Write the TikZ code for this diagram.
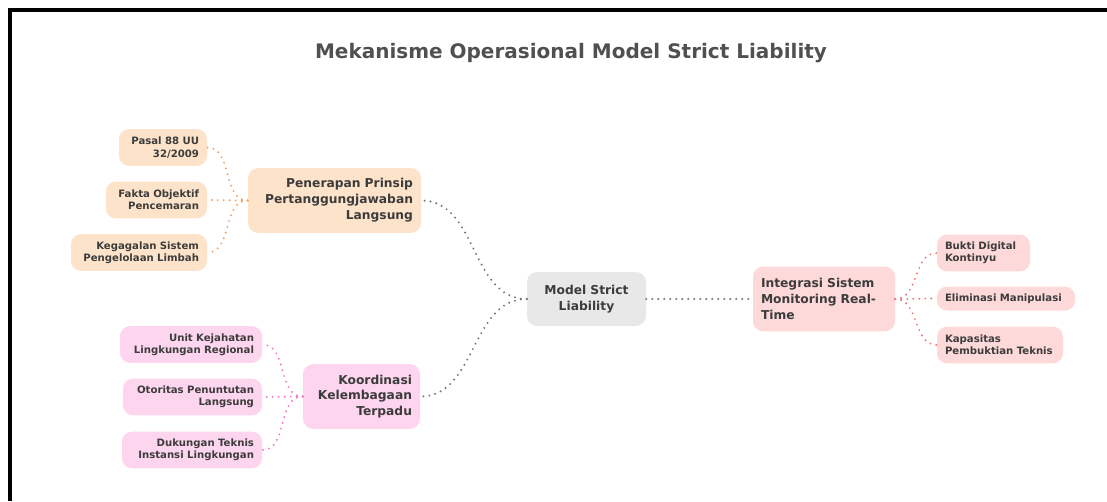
\documentclass[tikz,border=0pt]{standalone}
\usepackage{fontspec}
\setmainfont{DejaVu Sans}
\usetikzlibrary{calc}

\definecolor{txt}{HTML}{3C3C3C}
\definecolor{rootfill}{HTML}{E8E8E8}
\definecolor{orangefill}{HTML}{FDE3CA}
\definecolor{pinkfill}{HTML}{FDD5EE}
\definecolor{redfill}{HTML}{FDD9D9}
\definecolor{graylink}{HTML}{727272}
\definecolor{orangelink}{HTML}{F3A063}
\definecolor{pinklink}{HTML}{EF78C3}
\definecolor{redlink}{HTML}{EF7777}

\tikzset{
  box/.style={rounded corners=7.5pt, inner xsep=6pt, inner ysep=2pt, text=txt,
    font=\bfseries\fontsize{9.2}{11.9}\selectfont, minimum height=48.5pt},
  leaf/.style={box, font=\bfseries\fontsize{7.6}{9.2}\selectfont, minimum height=27.5pt},
  dots/.style={line width=1.6pt, line cap=round, dash pattern=on 0pt off 4.5pt},
}

\begin{document}
\begin{tikzpicture}[x=0.75pt,y=-0.75pt]
\useasboundingbox (0,0) rectangle (1107,501);
% frame (only top and left edges show)
\draw[line width=3pt] (10,501) -- (10,10) -- (1107,10);

\node[font=\bfseries\fontsize{15}{18}\selectfont, text=txt!90] (title) at (571,53)
  {Mekanisme Operasional Model Strict Liability};

% centre
\node[box, fill=rootfill, text width=77.25pt, align=center, minimum height=40.5pt] (root) at (586.5,299)
  {Model Strict\\Liability};

% main branches
\node[box, fill=orangefill, text width=117.75pt, align=right] (pen) at (334.5,200.5)
  {Penerapan Prinsip\\Pertanggungjawaban\\Langsung};
\node[box, fill=pinkfill, text width=75.75pt, align=right] (koor) at (361.5,396.5)
  {Koordinasi\\Kelembagaan\\Terpadu};
\node[box, fill=redfill, text width=94.5pt, align=left] (integ) at (824,299)
  {Integrasi Sistem\\Monitoring Real-\\Time};

% leaves
\node[leaf, fill=orangefill, text width=54pt, align=right] (pasal) at (163,147.5) {Pasal 88 UU\\32/2009};
\node[leaf, fill=orangefill, text width=63.75pt, align=right] (fakta) at (156.5,200) {Fakta Objektif\\Pencemaran};
\node[leaf, fill=orangefill, text width=90pt, align=right] (kega) at (139,252.5) {Kegagalan Sistem\\Pengelolaan Limbah};

\node[leaf, fill=pinkfill, text width=94.5pt, align=right] (unit) at (191,344.5) {Unit Kejahatan\\Lingkungan Regional};
\node[leaf, fill=pinkfill, text width=92.25pt, align=right] (otor) at (192.5,397) {Otoritas Penuntutan\\Langsung};
\node[leaf, fill=pinkfill, text width=93pt, align=right] (duk) at (192,450) {Dukungan Teknis\\Instansi Lingkungan};

\node[leaf, fill=redfill, text width=57.75pt, align=left] (bukti) at (983.5,253) {Bukti Digital\\Kontinyu};
\node[leaf, fill=redfill, text width=91.5pt, align=left, minimum height=18pt] (elim) at (1006,298.5) {Eliminasi Manipulasi};
\node[leaf, fill=redfill, text width=82.5pt, align=left] (kapa) at (1000,345) {Kapasitas\\Pembuktian Teknis};

% links
\draw[dots, graylink] (root.west) to[out=180,in=0] (pen.east);
\draw[dots, graylink] (root.west) to[out=180,in=0] (koor.east);
\draw[dots, graylink] (root.east) -- (integ.west);

\foreach \c in {pasal,fakta,kega}
  \draw[dots, orangelink] (pen.west) to[out=180,in=0] (\c.east);
\foreach \c in {unit,otor,duk}
  \draw[dots, pinklink] (koor.west) to[out=180,in=0] (\c.east);
\foreach \c in {bukti,elim,kapa}
  \draw[dots, redlink] (integ.east) to[out=0,in=180] (\c.west);
\end{tikzpicture}
\end{document}
